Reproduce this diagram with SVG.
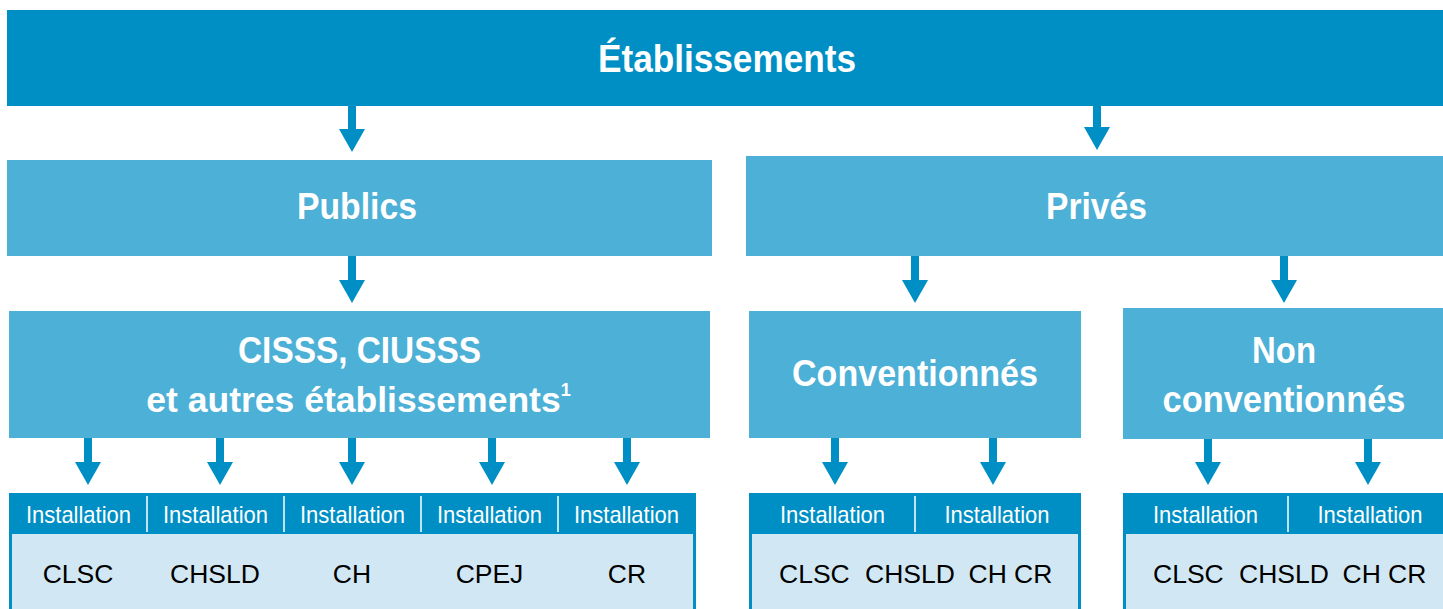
<svg xmlns="http://www.w3.org/2000/svg" width="1443" height="609" viewBox="0 0 1443 609">
<style>
.dark{fill:#008FC5}
.light{fill:#4DB0D6}
.body{fill:#D1E8F4;stroke:#008FC5;stroke-width:3}
.title{font-family:"Liberation Sans",Arial,sans-serif;font-weight:bold;fill:#fff;text-anchor:middle}
.inst{font-family:"Liberation Sans",Arial,sans-serif;font-size:24px;fill:#fff;text-anchor:middle}
.code{font-family:"Liberation Sans",Arial,sans-serif;font-size:26.5px;fill:#000;text-anchor:middle}
.codel{font-family:"Liberation Sans",Arial,sans-serif;font-size:26.5px;fill:#000}
.div{stroke:#fff;stroke-width:1.5}
.conn{stroke:#008FC5;stroke-width:8;fill:none;marker-end:url(#ah)}
</style>
<defs>
<marker id="ah" markerUnits="userSpaceOnUse" markerWidth="24" markerHeight="27" refX="0" refY="13" orient="auto" viewBox="0 0 24 27">
<path d="M0,0 L23,13 L0,26 z" fill="#008FC5"/>
</marker>
</defs>
<rect width="1443" height="609" fill="#fff"/>

<g id="etablissements">
<rect class="dark" x="7" y="10" width="1436" height="96"/>
<text class="title" x="727" y="72" font-size="38" textLength="258" lengthAdjust="spacingAndGlyphs">Établissements</text>
</g>

<g id="publics">
<rect class="light" x="7" y="160" width="705" height="96"/>
<text class="title" x="357" y="219" font-size="36" textLength="120" lengthAdjust="spacingAndGlyphs">Publics</text>
</g>

<g id="prives">
<rect class="light" x="746" y="156" width="697" height="100"/>
<text class="title" x="1096.5" y="219" font-size="36" textLength="101" lengthAdjust="spacingAndGlyphs">Privés</text>
</g>

<g id="cisss">
<rect class="light" x="9" y="311" width="701" height="127"/>
<text class="title" x="359.5" y="363" font-size="37" textLength="243" lengthAdjust="spacingAndGlyphs">CISSS, CIUSSS</text>
<text class="title" x="358.5" y="412" font-size="35.5">et autres établissements<tspan font-size="18" dy="-16">1</tspan></text>
</g>

<g id="conventionnes">
<rect class="light" x="749" y="311" width="332" height="127"/>
<text class="title" x="915" y="386" font-size="37" textLength="246" lengthAdjust="spacingAndGlyphs">Conventionnés</text>
</g>

<g id="non-conventionnes">
<rect class="light" x="1123" y="308" width="320" height="131"/>
<text class="title" x="1284" y="363" font-size="37" textLength="64" lengthAdjust="spacingAndGlyphs">Non</text>
<text class="title" x="1284" y="412" font-size="37" textLength="243" lengthAdjust="spacingAndGlyphs">conventionnés</text>
</g>

<g id="table-publics">
<rect class="body" x="10.5" y="494.5" width="684" height="120"/>
<rect class="dark" x="9" y="493" width="687" height="41"/>
<line class="div" x1="147" y1="496" x2="147" y2="532"/>
<line class="div" x1="284" y1="496" x2="284" y2="532"/>
<line class="div" x1="421" y1="496" x2="421" y2="532"/>
<line class="div" x1="558" y1="496" x2="558" y2="532"/>
<text class="inst" x="78.5" y="523" textLength="105" lengthAdjust="spacingAndGlyphs">Installation</text>
<text class="inst" x="215.5" y="523" textLength="105" lengthAdjust="spacingAndGlyphs">Installation</text>
<text class="inst" x="352.5" y="523" textLength="105" lengthAdjust="spacingAndGlyphs">Installation</text>
<text class="inst" x="489.5" y="523" textLength="105" lengthAdjust="spacingAndGlyphs">Installation</text>
<text class="inst" x="626.5" y="523" textLength="105" lengthAdjust="spacingAndGlyphs">Installation</text>
<text class="code" x="78" y="583">CLSC</text>
<text class="code" x="215" y="583">CHSLD</text>
<text class="code" x="352" y="583">CH</text>
<text class="code" x="489.5" y="583">CPEJ</text>
<text class="code" x="627" y="583">CR</text>
</g>

<g id="table-conventionnes">
<rect class="body" x="750.5" y="494.5" width="329" height="120"/>
<rect class="dark" x="749" y="493" width="332" height="41"/>
<line class="div" x1="915" y1="496" x2="915" y2="532"/>
<text class="inst" x="832.5" y="523" textLength="105" lengthAdjust="spacingAndGlyphs">Installation</text>
<text class="inst" x="997" y="523" textLength="105" lengthAdjust="spacingAndGlyphs">Installation</text>
<text class="codel" x="779" y="583">CLSC</text>
<text class="codel" x="865" y="583">CHSLD</text>
<text class="codel" x="968.5" y="583">CH</text>
<text class="codel" x="1014" y="583">CR</text>
</g>

<g id="table-non-conventionnes">
<rect class="body" x="1124.5" y="494.5" width="330" height="120"/>
<rect class="dark" x="1123" y="493" width="320" height="41"/>
<line class="div" x1="1288" y1="496" x2="1288" y2="532"/>
<text class="inst" x="1205.5" y="523" textLength="105" lengthAdjust="spacingAndGlyphs">Installation</text>
<text class="inst" x="1370" y="523" textLength="105" lengthAdjust="spacingAndGlyphs">Installation</text>
<text class="codel" x="1153" y="583">CLSC</text>
<text class="codel" x="1239" y="583">CHSLD</text>
<text class="codel" x="1342.5" y="583">CH</text>
<text class="codel" x="1388" y="583">CR</text>
</g>

<g id="connectors">
<line class="conn" x1="352" y1="106" x2="352" y2="129"/>
<line class="conn" x1="1097" y1="106" x2="1097" y2="127"/>
<line class="conn" x1="352" y1="256" x2="352" y2="280"/>
<line class="conn" x1="915" y1="256" x2="915" y2="280"/>
<line class="conn" x1="1284" y1="256" x2="1284" y2="280"/>
<line class="conn" x1="88" y1="438" x2="88" y2="462"/>
<line class="conn" x1="220" y1="438" x2="220" y2="462"/>
<line class="conn" x1="352" y1="438" x2="352" y2="462"/>
<line class="conn" x1="492" y1="438" x2="492" y2="462"/>
<line class="conn" x1="627" y1="438" x2="627" y2="462"/>
<line class="conn" x1="835" y1="438" x2="835" y2="462"/>
<line class="conn" x1="993" y1="438" x2="993" y2="462"/>
<line class="conn" x1="1208" y1="439" x2="1208" y2="462"/>
<line class="conn" x1="1368" y1="439" x2="1368" y2="462"/>
</g>
</svg>
